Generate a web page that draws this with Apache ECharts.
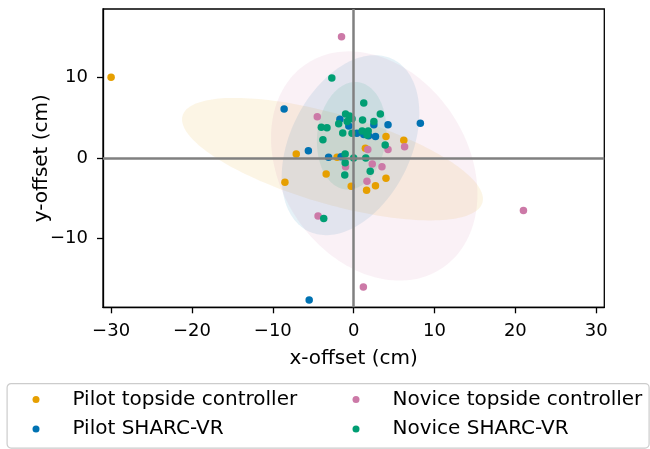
<!DOCTYPE html>
<html>
<head>
<meta charset="utf-8">
<script src="https://cdn.jsdelivr.net/npm/echarts@6/dist/echarts.min.js"></script>
<style>html,body{margin:0;padding:0;background:#fff}#c{width:650px;height:449px}</style>
</head>
<body>
<div id="c"></div>
<script>
const seriesNames = ['Pilot topside controller', 'Pilot SHARC-VR', 'Novice topside controller', 'Novice SHARC-VR'];
const xTicks = [-30, -20, -10, 0, 10, 20, 30];
const yTicks = [-10, 0, 10];

const pilotTopsideX = [-30.0, -7.1, -8.5, -3.4, -2.05, -0.3, 1.6, 2.7, 4.0, 1.45, 4.0, 6.2];
const pilotTopsideY = [10.0, 0.5, -3.0, -2.0, 0.1, -3.5, -4.0, -3.45, -2.5, 1.2, 2.65, 2.2];

const pilotVRX = [-8.6, 8.25, 4.25, 2.5, -1.7, -0.6, 0.4, 1.25, 1.85, 2.7, -5.6, -3.1, -1.55, -5.5];
const pilotVRY = [6.05, 4.3, 4.1, 4.1, 4.8, 3.95, 3.05, 2.9, 2.75, 2.65, 0.9, 0.1, 0.15, -17.6];

const noviceTopsideX = [-1.5, -4.5, 1.75, 4.25, 6.3, -1.0, 2.3, 3.5, 1.65, -4.4, 21.0, 1.2];
const noviceTopsideY = [15.0, 5.1, 1.05, 1.05, 1.4, -1.1, -0.75, -1.1, -2.9, -7.2, -6.5, -16.0];

const noviceVRX = [-2.7, 1.25, 3.3, -1.0, -0.5, -0.2, -0.8, -1.85, 1.1, 2.5, -4.0, -3.3, -1.35, -0.2, 1.05, 1.8, 1.65, -3.8, 3.9, -1.05, 0.0, 1.5, -1.05, 2.05, -1.1, -3.7];
const noviceVRY = [9.9, 6.8, 5.45, 5.45, 5.2, 4.85, 4.5, 4.25, 4.7, 4.5, 3.8, 3.75, 3.1, 3.05, 3.35, 3.35, 2.85, 2.25, 1.6, 0.5, 0.0, 0.0, -0.6, -1.65, -2.1, -7.5];

const colors = ['#E69F00', '#0072B2', '#CC79A7', '#009E73'];
const groupsX = [pilotTopsideX, pilotVRX, noviceTopsideX, noviceVRX];
const groupsY = [pilotTopsideY, pilotVRY, noviceTopsideY, noviceVRY];

function zip(xs, ys) { return xs.map((x, i) => [x, ys[i]]); }

function confidenceEllipse(xs, ys, nStd) {
  const n = xs.length;
  const mx = xs.reduce((a, b) => a + b, 0) / n;
  const my = ys.reduce((a, b) => a + b, 0) / n;
  let cxx = 0, cyy = 0, cxy = 0;
  for (let i = 0; i < n; i++) {
    cxx += (xs[i] - mx) ** 2; cyy += (ys[i] - my) ** 2; cxy += (xs[i] - mx) * (ys[i] - my);
  }
  cxx /= n; cyy /= n; cxy /= n;
  const p = cxy / Math.sqrt(cxx * cyy);
  const rx = Math.sqrt(1 + p), ry = Math.sqrt(1 - p);
  const sx = Math.sqrt(cxx) * nStd, sy = Math.sqrt(cyy) * nStd;
  const pts = [];
  for (let k = 0; k < 180; k++) {
    const t = 2 * Math.PI * k / 180;
    const a = rx * Math.cos(t), b = ry * Math.sin(t);
    const u = (a - b) / Math.SQRT2, v = (a + b) / Math.SQRT2;
    pts.push([mx + u * sx, my + v * sy]);
  }
  return { center: [mx, my], pts: pts };
}

const FONT = 'DejaVu Sans';
const minus = v => String(v).replace('-', '\u2212');

const series = [];
groupsX.forEach((xs, g) => {
  const ell = confidenceEllipse(xs, groupsY[g], 2);
  series.push({
    type: 'custom', name: 'ell' + g, z: 1, silent: true, animation: false,
    data: [ell.center],
    renderItem: function (params, api) {
      const pts = ell.pts.map(p => api.coord(p));
      return { type: 'polygon', shape: { points: pts }, style: { fill: colors[g], opacity: 0.1 } };
    }
  });
});
series.push({
  type: 'line', name: 'zero', data: [], z: 2, silent: true, animation: false,
  markLine: {
    silent: true, symbol: ['none', 'none'], animation: false, label: { show: false },
    lineStyle: { color: '#808080', width: 2.5, type: 'solid' },
    data: [{ xAxis: 0 }, { yAxis: 0 }]
  }
});
groupsX.forEach((xs, g) => {
  series.push({
    type: 'scatter', name: seriesNames[g], z: 3, symbol: 'circle', symbolSize: 7.5,
    itemStyle: { color: colors[g], opacity: 1 }, animation: false,
    data: zip(xs, groupsY[g])
  });
});

const legendCommon = {
  orient: 'vertical', icon: 'circle', itemWidth: 7, itemHeight: 7, itemGap: 9.5,
  textStyle: { fontFamily: FONT, fontSize: 20, color: '#000', lineHeight: 20, padding: [0, 0, 0, 28] },
  selectedMode: false, padding: 0, top: 389.5
};

const chart = echarts.init(document.getElementById('c'), null, { renderer: 'canvas' });
chart.setOption({
  backgroundColor: '#fff',
  color: colors,
  grid: { left: 103, right: 45.7, top: 9, bottom: 141.7, show: true, borderColor: '#000', borderWidth: 1.3, backgroundColor: 'transparent' },
  xAxis: {
    type: 'value', min: -31, max: 31,
    name: 'x-offset (cm)', nameLocation: 'middle', nameGap: 41, nameMoveOverlap: false,
    nameTextStyle: { fontFamily: FONT, fontSize: 20, color: '#000' },
    axisLine: { show: true, onZero: false, lineStyle: { color: '#000', width: 1.3 } },
    axisTick: { show: true, length: 6, lineStyle: { color: '#000', width: 1.3 }, customValues: xTicks },
    axisLabel: { fontFamily: FONT, fontSize: 18, color: '#000', margin: 15, customValues: xTicks, formatter: minus },
    splitLine: { show: false }
  },
  yAxis: {
    type: 'value', min: -18.5, max: 18.45,
    name: 'y-offset (cm)', nameLocation: 'middle', nameGap: 51, nameMoveOverlap: false,
    nameTextStyle: { fontFamily: FONT, fontSize: 20, color: '#000' },
    axisLine: { show: true, onZero: false, lineStyle: { color: '#000', width: 1.3 } },
    axisTick: { show: true, length: 6, lineStyle: { color: '#000', width: 1.3 }, customValues: yTicks },
    axisLabel: { fontFamily: FONT, fontSize: 18, color: '#000', margin: 15, customValues: yTicks, formatter: minus },
    splitLine: { show: false }
  },
  legend: [
    Object.assign({}, legendCommon, { left: 32.5, data: [seriesNames[0], seriesNames[1]] }),
    Object.assign({}, legendCommon, { left: 352.5, data: [seriesNames[2], seriesNames[3]] })
  ],
  graphic: [{
    type: 'rect', left: 6.5, top: 383, z: -1, silent: true,
    shape: { width: 642, height: 64.5, r: 4 },
    style: { fill: '#fff', stroke: '#cccccc', lineWidth: 1.2 }
  }],
  series: series
});
</script>
</body>
</html>
